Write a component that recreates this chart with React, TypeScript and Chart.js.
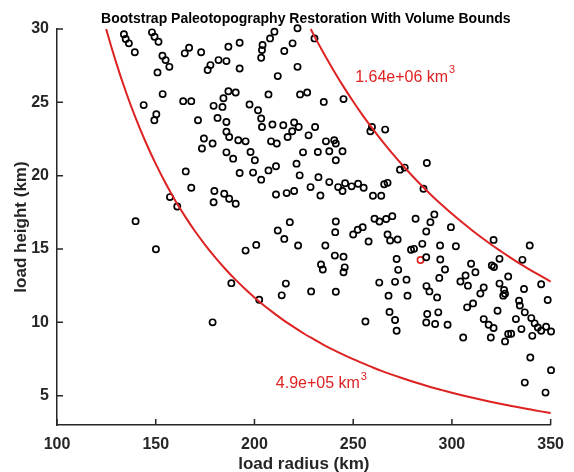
import React, { useEffect, useRef } from 'react';
import { Chart, registerables } from 'chart.js';

Chart.register(...registerables);

// ---------- data ----------
const xTicks = [100, 150, 200, 250, 300, 350];
const yTicks = [5, 10, 15, 20, 25, 30];

// bootstrap samples: load radius (km)
const sampleRadius = [
  133.9, 134.8, 136.4, 139.4, 148.1, 149.4, 151.4, 153.4, 155.0, 156.9, 150.9, 164.7, 166.9, 173.0, 176.3, 177.7, 181.8, 185.8,
  153.5, 143.9, 150.3, 149.3, 163.9, 168.0, 171.4, 179.3, 184.3, 183.8, 181.3, 185.8, 174.4, 178.8, 173.4, 185.8, 185.8,
  221.8, 210.1, 207.9, 230.4, 192.5, 186.8, 204.1, 203.8, 203.4, 219.3, 215.1, 192.5, 221.8, 211.8, 186.8, 190.5, 207.1,
  223.1, 226.7, 235.1, 245.1, 197.5, 201.8, 203.4, 203.8, 209.1, 214.6, 220.1, 222.4, 219.1, 230.7, 216.8, 227.4, 187.2,
  191.8, 195.5, 208.4, 211.3, 236.2, 240.4, 241.2, 237.9, 244.6, 259.5, 258.7, 266.2, 198.0, 232.1, 224.6,
  189.2, 200.2, 192.5, 199.3, 203.4, 207.1, 210.9, 221.3, 241.2, 222.9, 232.4, 237.9, 228.4, 233.4, 242.4, 244.6, 245.9,
  249.2, 252.5, 255.3, 260.0, 264.2, 265.7, 267.4, 210.9, 216.3, 220.1, 184.7, 187.2, 190.5, 217.9, 211.8, 215.1, 222.1,
  195.5, 200.9, 241.2, 240.9, 235.9, 250.0, 252.3, 254.8, 260.8, 263.3, 266.7, 257.8, 267.4, 240.7, 245.1, 233.7, 234.6,
  245.7, 245.1, 215.9, 263.2, 188.3,
  165.2, 168.0, 157.2, 160.9, 179.7, 179.3, 139.8, 150.1, 178.8,
  273.7, 276.1, 287.3, 285.6, 269.8, 281.6, 291.1, 289.1, 287.0, 299.5, 268.7, 272.5, 280.8, 279.3, 285.0, 294.0, 302.0,
  321.1, 339.4, 272.0, 287.0, 294.1, 272.8, 296.5, 309.7, 311.9, 320.2, 321.3, 324.1, 335.7, 306.9, 304.3, 293.6, 277.0,
  271.2, 328.5, 324.1, 345.2, 287.1,
  202.4, 213.8, 228.7, 241.2, 267.9, 268.4, 256.2,
  277.5, 271.2, 272.0, 288.6, 292.5, 287.5, 293.1, 287.0, 291.5, 297.8, 305.7, 308.1, 316.1, 314.4, 310.7, 307.7, 326.4,
  326.0, 326.9, 336.5, 348.5, 334.0, 334.4, 336.9, 323.1, 316.1, 318.6, 321.1, 319.7, 332.4, 335.2, 328.5, 330.0, 326.9,
  340.2, 341.9, 343.5, 340.7, 347.7, 350.2, 345.2, 339.7, 350.2, 336.9, 347.4,
];

// bootstrap samples: load height (km)
const sampleHeight = [
  29.64, 29.32, 29.02, 28.41, 29.77, 29.47, 29.13, 28.18, 27.88, 27.42, 27.04, 28.34, 28.72, 28.41, 27.20, 27.54, 27.88, 27.81,
  25.56, 24.81, 24.19, 23.78, 25.08, 25.08, 23.78, 24.76, 25.28, 24.69, 23.94, 23.66, 22.53, 22.19, 21.85, 23.00, 21.59,
  30.05, 29.82, 29.36, 29.36, 29.06, 28.79, 28.91, 28.56, 28.04, 29.02, 28.50, 27.31, 27.42, 26.79, 25.76, 25.67, 25.54,
  25.54, 25.67, 25.03, 25.22, 24.85, 24.46, 23.90, 23.32, 23.49, 23.44, 23.62, 23.32, 23.03, 23.32, 22.64, 22.75, 22.64,
  22.41, 22.34, 22.34, 22.19, 22.34, 22.41, 22.19, 21.66, 21.66, 23.32, 23.03, 23.14, 21.61, 21.61, 21.59,
  21.16, 21.05, 20.18, 20.21, 19.73, 20.36, 20.64, 20.82, 21.05, 20.02, 19.90, 19.56, 19.22, 18.65, 19.22, 18.95, 19.49,
  19.27, 19.45, 19.18, 18.63, 18.63, 19.41, 19.51, 18.72, 18.81, 18.95, 18.77, 18.43, 18.09, 16.83, 16.26, 15.69, 15.24,
  14.89, 15.28, 16.88, 16.15, 15.24, 15.99, 16.31, 16.49, 17.06, 16.88, 17.05, 15.51, 15.99, 14.55, 14.48, 13.94, 13.60,
  13.75, 13.41, 12.64, 12.71, 12.67,
  20.29, 19.18, 18.54, 17.90, 18.95, 18.19, 16.90, 14.98, 10.00,
  20.41, 20.55, 20.86, 19.11, 17.24, 17.06, 17.36, 16.83, 16.19, 16.49, 15.58, 15.65, 15.01, 14.95, 15.35, 15.24, 15.19,
  15.62, 15.24, 14.32, 14.44, 14.28, 13.58, 13.60, 13.99, 13.41, 13.87, 13.77, 14.33, 14.26, 13.19, 12.78, 13.03, 12.91,
  12.76, 13.12, 12.64, 12.60, 12.47,
  11.54, 11.84, 12.11, 12.09, 11.82, 10.71, 10.06,
  11.82, 10.16, 9.43, 12.11, 11.70, 10.57, 10.68, 9.99, 9.89, 9.84, 8.97, 12.50, 12.37, 11.96, 11.29, 11.02, 12.21,
  11.82, 11.95, 12.27, 11.52, 11.48, 11.14, 10.68, 10.79, 10.22, 9.84, 9.61, 8.97, 10.22, 9.54, 9.20, 9.22, 8.70,
  10.29, 9.93, 9.65, 9.08, 9.70, 9.38, 9.43, 7.60, 6.74, 5.89, 5.21,
];

// highlighted (red) restoration
const highlightRadius = [284.1];
const highlightHeight = [14.25];

// lower volume bound 4.9e+05 km^3
const lowerBoundRadius = [124.9, 125, 130, 135, 140, 145, 150, 155, 160, 165, 170, 175, 180, 185, 190, 195, 200, 205, 210, 215, 220, 225, 230,
  235, 240, 245, 250, 255, 260, 265, 270, 275, 280, 285, 290, 295, 300, 305, 310, 315, 320, 325, 330, 335, 340, 345, 350];
const lowerBoundHeight = [30.0, 29.95, 27.69, 25.67, 23.87, 22.26, 20.80, 19.48, 18.28, 17.19, 16.19, 15.28, 14.44, 13.67, 12.96, 12.31, 11.70,
  11.13, 10.61, 10.12, 9.67, 9.24, 8.85, 8.47, 8.12, 7.80, 7.49, 7.20, 6.92, 6.66, 6.42, 6.19, 5.97, 5.76, 5.56, 5.38, 5.20, 5.03, 4.87, 4.72,
  4.57, 4.43, 4.30, 4.17, 4.05, 3.93, 3.82];

// upper volume bound 1.64e+06 km^3
const upperBoundRadius = [228.5, 230, 235, 240, 245, 250, 255, 260, 265, 270, 275, 280, 285, 290, 295, 300, 305, 310, 315, 320, 325, 330, 335, 340, 345, 350];
const upperBoundHeight = [30.0, 29.60, 28.36, 27.19, 26.09, 25.06, 24.08, 23.17, 22.30, 21.48, 20.71, 19.98, 19.28, 18.62, 18.00, 17.40, 16.84,
  16.30, 15.78, 15.29, 14.83, 14.38, 13.95, 13.55, 13.16, 12.78];

const boundLabelText = ['1.64e+06 km', '4.9e+05 km'];
const boundLabelSup = ['3', '3'];
const boundLabelRadius = [251.0, 210.8];
const boundLabelHeight = [26.7, 5.8];

const titleText = 'Bootstrap Paleotopography Restoration With Volume Bounds';
const xTitle = 'load radius (km)';
const yTitle = 'load height (km)';

// ---------- styles ----------
const FONT = '"Liberation Sans", Arial, Helvetica, sans-serif';
const AXIS = '#262626';
const RED = 'rgb(221, 34, 34)';

const zip = (xs: number[], ys: number[]) => xs.map((x, i) => ({ x, y: ys[i] }));

const decorPlugin = {
  id: 'decor',
  afterDraw(chart: any) {
    const { ctx, chartArea, scales } = chart;
    const { left, right, top, bottom } = chartArea;
    const xs = scales.x;
    const ys = scales.y;
    ctx.save();
    // inward ticks
    ctx.strokeStyle = AXIS;
    ctx.lineWidth = 1.5;
    ctx.beginPath();
    xTicks.forEach((v) => {
      const px = xs.getPixelForValue(v);
      ctx.moveTo(px, bottom);
      ctx.lineTo(px, bottom - 6);
    });
    yTicks.forEach((v) => {
      const py = ys.getPixelForValue(v);
      ctx.moveTo(left, py);
      ctx.lineTo(left + 6, py);
    });
    ctx.stroke();

    // title
    ctx.fillStyle = '#000';
    ctx.font = `bold 14px ${FONT}`;
    ctx.textAlign = 'center';
    ctx.textBaseline = 'middle';
    ctx.fillText(titleText, (left + right) / 2 + 2, 19.5);

    // axis titles
    ctx.fillStyle = AXIS;
    ctx.font = `bold 17px ${FONT}`;
    ctx.fillText(xTitle, (left + right) / 2, 464);
    ctx.save();
    ctx.translate(21, (top + bottom) / 2);
    ctx.rotate(-Math.PI / 2);
    ctx.fillText(yTitle, 0, 0);
    ctx.restore();

    // bound labels
    ctx.fillStyle = RED;
    ctx.textAlign = 'left';
    boundLabelText.forEach((t, i) => {
      const px = xs.getPixelForValue(boundLabelRadius[i]);
      const py = ys.getPixelForValue(boundLabelHeight[i]);
      ctx.font = `16px ${FONT}`;
      ctx.textBaseline = 'middle';
      ctx.fillText(t, px, py);
      const w = ctx.measureText(t).width;
      ctx.font = `11px ${FONT}`;
      ctx.fillText(boundLabelSup[i], px + w + 1, py - 7);
    });
    ctx.restore();
  },
};

export default function App() {
  const ref = useRef<HTMLCanvasElement | null>(null);

  useEffect(() => {
    document.body.style.margin = '0';
    const canvas = ref.current;
    if (!canvas) return;
    const chart = new Chart(canvas, {
      type: 'scatter',
      data: {
        datasets: [
          {
            type: 'line',
            data: zip(lowerBoundRadius, lowerBoundHeight),
            borderColor: RED,
            borderWidth: 2,
            pointRadius: 0,
            fill: false,
            cubicInterpolationMode: 'monotone',
            clip: false,
          } as any,
          {
            type: 'line',
            data: zip(upperBoundRadius, upperBoundHeight),
            borderColor: RED,
            borderWidth: 2,
            pointRadius: 0,
            fill: false,
            cubicInterpolationMode: 'monotone',
            clip: false,
          } as any,
          {
            type: 'scatter',
            data: zip(sampleRadius, sampleHeight),
            pointStyle: 'circle',
            pointRadius: 3.1,
            borderWidth: 1.7,
            borderColor: '#000',
            backgroundColor: 'rgba(0,0,0,0)',
            clip: false,
          } as any,
          {
            type: 'scatter',
            data: zip(highlightRadius, highlightHeight),
            pointStyle: 'circle',
            pointRadius: 3.1,
            borderWidth: 1.7,
            borderColor: RED,
            backgroundColor: 'rgba(0,0,0,0)',
            clip: false,
          } as any,
        ],
      },
      options: {
        animation: false,
        responsive: false,
        maintainAspectRatio: false,
        layout: { padding: { top: 29, right: 17, left: 0, bottom: 0 } },
        plugins: {
          legend: { display: false },
          tooltip: { enabled: false },
          title: { display: false },
        },
        scales: {
          x: {
            type: 'linear',
            min: 100,
            max: 350,
            afterBuildTicks: (s: any) => {
              s.ticks = xTicks.map((v) => ({ value: v }));
            },
            afterFit: (s: any) => {
              s.height = 47;
            },
            grid: { display: false, drawTicks: false },
            border: { display: true, color: AXIS, width: 1.5 },
            ticks: {
              color: AXIS,
              font: { family: FONT, size: 16, weight: 'bold' },
              padding: 10,
              maxRotation: 0,
              autoSkip: false,
            },
          },
          y: {
            type: 'linear',
            min: 3,
            max: 30,
            afterBuildTicks: (s: any) => {
              s.ticks = yTicks.map((v) => ({ value: v }));
            },
            afterFit: (s: any) => {
              s.width = 57;
            },
            grid: { display: false, drawTicks: false },
            border: { display: true, color: AXIS, width: 1.5 },
            ticks: {
              color: AXIS,
              font: { family: FONT, size: 16, weight: 'bold' },
              padding: 8,
              autoSkip: false,
            },
          },
        },
      } as any,
      plugins: [decorPlugin],
    });
    return () => chart.destroy();
  }, []);

  return (
    <div style={{ width: 574, height: 472, background: '#fff' }}>
      <canvas ref={ref} width={574} height={472} style={{ display: 'block', width: 574, height: 472 }} />
    </div>
  );
}
